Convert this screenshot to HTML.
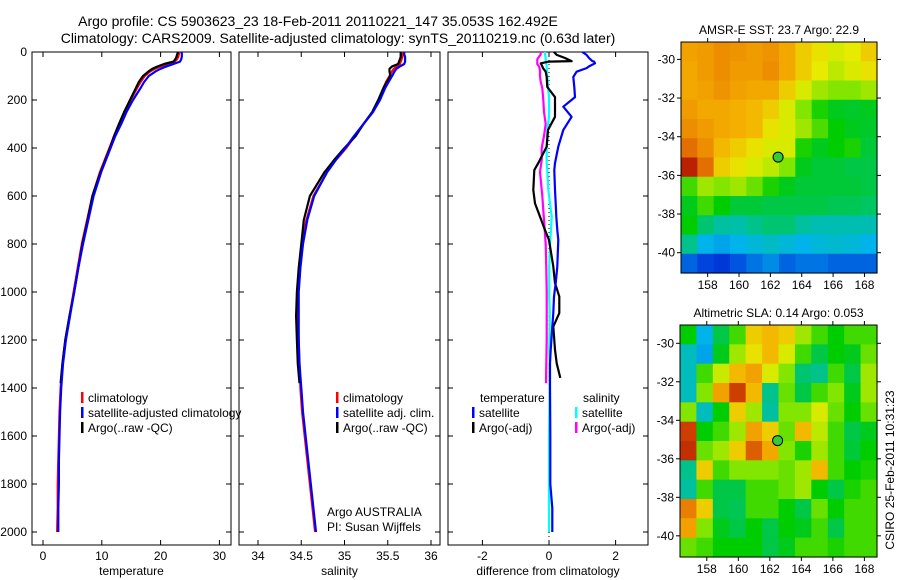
<!DOCTYPE html>
<html><head><meta charset="utf-8"><style>
body{margin:0;background:#fff;}
svg{display:block;font-family:"Liberation Sans",sans-serif;}
</style></head><body>
<svg id="chart" width="900" height="580" viewBox="0 0 900 580" xmlns="http://www.w3.org/2000/svg">
<rect width="900" height="580" fill="#fff"/>
<text x="318" y="26" font-size="14" text-anchor="middle">Argo profile: CS 5903623_23 18-Feb-2011 20110221_147 35.053S 162.492E</text>
<text x="338" y="43" font-size="14" text-anchor="middle">Climatology: CARS2009. Satellite-adjusted climatology: synTS_20110219.nc (0.63d later)</text>
<g id="g"></g>
</svg>
<script>
// ---- data ----
const depths = [0,10,20,30,40,50,60,70,80,100,125,150,200,250,300,350,400,450,500,600,700,800,900,1000,1100,1200,1300,1400,1500,1600,1700,1800,1900,2000];
const tempClim = [23.2,23.1,23.0,22.8,22.4,21.3,20.0,19.0,18.3,17.3,16.6,16.0,14.9,13.9,13.0,12.1,11.3,10.5,9.7,8.4,7.5,6.6,5.9,5.2,4.5,3.8,3.3,3.0,2.8,2.7,2.6,2.5,2.5,2.4];
const tempSat = [23.6,23.6,23.6,23.5,23.3,22.2,21.0,20.0,19.2,18.0,17.2,16.6,15.3,14.2,13.3,12.3,11.5,10.7,9.9,8.6,7.7,6.8,6.0,5.3,4.6,3.9,3.4,3.1,2.9,2.8,2.7,2.7,2.6,2.6];
const argoDepths = [0,10,20,30,40,50,60,70,80,100,125,150,200,250,300,350,400,450,500,600,700,800,900,1000,1100,1200,1300,1380];
const tempArgo = [23.0,22.8,22.7,22.5,22.2,20.6,19.5,18.6,18.0,17.0,16.3,15.8,14.8,13.8,12.9,12.1,11.4,10.6,9.8,8.4,7.6,6.7,6.0,5.3,4.5,3.8,3.3,3.0];
const salClim = [35.67,35.67,35.67,35.66,35.65,35.64,35.6,35.57,35.55,35.52,35.48,35.45,35.4,35.33,35.22,35.12,35.02,34.9,34.8,34.64,34.56,34.51,34.48,34.46,34.46,34.47,34.48,34.49,34.51,34.54,34.57,34.6,34.63,34.66];
const salSat = [35.69,35.69,35.7,35.7,35.7,35.69,35.64,35.6,35.58,35.55,35.51,35.47,35.41,35.33,35.22,35.11,35.01,34.9,34.8,34.65,34.57,34.52,34.49,34.47,34.47,34.47,34.48,34.5,34.52,34.55,34.58,34.61,34.64,34.67];
const salArgo = [35.65,35.65,35.65,35.64,35.63,35.62,35.55,35.52,35.52,35.53,35.49,35.45,35.39,35.32,35.22,35.13,35.0,34.88,34.77,34.6,34.53,34.5,34.47,34.45,34.44,34.45,34.46,34.48];
const diffDepths = [0,12,25,38,40,47,60,67,82,104,146,188,228,270,325,394,463,492,575,631,686,742,783,894,963,1019,1088,1144,1241,1297,1358,1400,1600,1800,1900,2000];
const diffTempSat = [1.0,1.13,1.2,1.3,1.35,1.38,1.2,1.13,0.83,0.73,0.76,0.78,0.43,0.68,0.43,0.28,0.18,0.16,0.18,0.2,0.22,0.25,0.28,0.25,0.2,0.15,0.13,0.1,0.05,0.03,0.03,0.03,0.04,0.04,0.1,0.1];
const diffTempArgo = [0.15,0.23,0.48,0.68,0.0,-0.25,-0.2,-0.18,-0.1,-0.07,-0.05,0.18,0.18,0.18,-0.03,-0.07,-0.32,-0.44,-0.47,-0.42,-0.27,-0.12,0.0,0.13,0.18,0.31,0.31,0.13,0.18,0.23,0.34];
const diffSalSat = [-0.12,-0.12,-0.1,-0.1,-0.1,-0.08,-0.07,-0.07,-0.06,-0.05,-0.03,0.0,0.0,0.0,-0.05,-0.07,-0.07,-0.05,-0.02,0.03,0.08,0.06,0.04,0.01,0.01,0.01,0.02,0.02,0.01,0.02,0.02,0.02,0.0,0.0,0.0,0.0];
const diffSalArgo = [-0.25,-0.25,-0.3,-0.35,-0.35,-0.35,-0.3,-0.28,-0.27,-0.27,-0.25,-0.2,-0.17,-0.15,-0.1,-0.15,-0.22,-0.22,-0.27,-0.2,-0.15,-0.1,-0.08,-0.07,-0.07,-0.07,-0.08,-0.09,-0.1,-0.1,-0.1];
const depthTicks = [0,200,400,600,800,1000,1200,1400,1600,1800,2000];
const tempTicks = [0,10,20,30];
const salTicks = [34,34.5,35,35.5,36];
const diffTicks = [-2,0,2];
const latTicks = [-30,-32,-34,-36,-38,-40];
const lonTicks = [158,160,162,164,166,168];
const sstGrid = [
[.75,.76,.78,.77,.76,.77,.74,.7,.68,.66,.67,.7],
[.74,.76,.78,.76,.76,.78,.74,.7,.67,.64,.66,.68],
[.74,.75,.77,.75,.74,.74,.7,.66,.62,.6,.6,.62],
[.76,.74,.74,.73,.72,.7,.66,.6,.52,.48,.47,.48],
[.78,.76,.74,.73,.72,.68,.66,.62,.56,.5,.48,.47],
[.82,.78,.72,.7,.68,.66,.66,.52,.48,.5,.52,.46],
[.92,.82,.7,.68,.66,.64,.6,.48,.46,.46,.45,.45],
[.55,.62,.6,.62,.58,.52,.48,.46,.46,.46,.46,.45],
[.48,.55,.5,.46,.46,.45,.45,.45,.45,.44,.44,.43],
[.5,.42,.38,.37,.4,.42,.42,.38,.36,.36,.36,.36],
[.4,.3,.28,.3,.32,.34,.32,.3,.32,.33,.32,.3],
[.2,.16,.14,.18,.22,.25,.2,.22,.22,.2,.2,.2]];
const slaGrid = [
[.5,.3,.45,.55,.7,.72,.7,.62,.55,.5,.55,.55],
[.35,.28,.48,.62,.68,.72,.66,.55,.45,.5,.48,.58],
[.35,.55,.65,.72,.75,.66,.6,.42,.4,.55,.45,.62],
[.35,.6,.75,.88,.72,.4,.58,.45,.55,.6,.48,.62],
[.6,.35,.5,.7,.62,.38,.6,.6,.66,.58,.5,.58],
[.88,.5,.55,.62,.75,.7,.58,.72,.64,.55,.45,.48],
[.9,.58,.62,.7,.84,.74,.6,.52,.62,.55,.46,.5],
[.4,.7,.55,.6,.6,.6,.58,.62,.72,.55,.5,.52],
[.38,.55,.45,.45,.55,.55,.58,.62,.5,.45,.52,.55],
[.8,.7,.45,.44,.55,.55,.5,.45,.58,.5,.55,.55],
[.75,.6,.48,.45,.5,.45,.5,.48,.55,.45,.55,.55],
[.58,.55,.5,.5,.5,.45,.48,.55,.55,.52,.55,.55]];
const argoLon = 162.492, argoLat = -35.053;

// ---- helpers ----
const NS="http://www.w3.org/2000/svg";
const G=document.getElementById('g');
function mk(tag,attrs,parent){const e=document.createElementNS(NS,tag);for(const k in attrs)e.setAttribute(k,attrs[k]);(parent||G).appendChild(e);return e;}
const Y0=52, YS=0.24;
const yD = d => Y0 + d*YS;
const xT = t => 43 + 5.88*t;
const xS = s => 258 + 86.5*(s-34);
const xDf = v => 549 + 33.3*v;

function panel(name,x0,x1,ticks,fx,label,leftLabels){
  const g=mk('g',{});
  
  
  mk('rect',{x:x0,y:Y0,width:x1-x0,height:545-Y0,fill:'none',stroke:'#000','stroke-width':1},g);
  ticks.forEach(t=>{const x=fx(t);
    mk('line',{x1:x,x2:x,y1:Y0,y2:Y0+5,stroke:'#000'},g);
    mk('line',{x1:x,x2:x,y1:545,y2:540,stroke:'#000'},g);
    const tx=mk('text',{x:x,y:560,'font-size':12,'text-anchor':'middle'},g);tx.textContent=String(t);
    
    
  });
  depthTicks.forEach(d=>{const y=yD(d);
    mk('line',{x1:x0,x2:x0+5,y1:y,y2:y,stroke:'#000'},g);
    mk('line',{x1:x1,x2:x1-5,y1:y,y2:y,stroke:'#000'},g);
    if(leftLabels){const tx=mk('text',{x:x0-5,y:y+4,'font-size':12,'text-anchor':'end'},g);tx.textContent=String(d);
      
      }
  });
  const lt=mk('text',{x:(x0+x1)/2,y:575,'font-size':12,'text-anchor':'middle'},g);lt.textContent=label;
  
  
}
function line(name,ds,vs,fx,color,w){
  const n=Math.min(ds.length,vs.length);let p='';
  for(let i=0;i<n;i++)p+=(i?'L':'M')+fx(vs[i]).toFixed(1)+','+yD(ds[i]).toFixed(1);
  const e=mk('path',{d:p,fill:'none',stroke:color,'stroke-width':w||2.2,'stroke-linejoin':'round'});
  
  
}
function legend(x,y,color,text){
  mk('rect',{x:x,y:y-10,width:2.5,height:11,fill:color});
  const t=mk('text',{x:x+7,y:y,'font-size':12});t.textContent=text;
  
  
}
function txt(x,y,s,name,extra){const t=mk('text',Object.assign({x:x,y:y,'font-size':12},extra||{}));t.textContent=s;
  
  return t;}

// ---- profile panels ----
panel('temperature-panel',32,231,tempTicks,xT,'temperature',true);
line('temp-climatology',depths,tempClim,xT,'#f00');
line('temp-argo',argoDepths,tempArgo,xT,'#000');
line('temp-satellite-adjusted',depths,tempSat,xT,'#00f');
legend(81,402,'#f00','climatology');legend(81,417,'#00f','satellite-adjusted climatology');legend(81,432,'#000','Argo(..raw -QC)');

panel('salinity-panel',239,440,salTicks,xS,'salinity',false);
line('sal-climatology',depths,salClim,xS,'#f00');
line('sal-argo',argoDepths,salArgo,xS,'#000');
line('sal-satellite-adjusted',depths,salSat,xS,'#00f');
legend(336,402,'#f00','climatology');legend(336,417,'#00f','satellite adj. clim.');legend(336,432,'#000','Argo(..raw -QC)');
txt(327,516,'Argo AUSTRALIA','institution-label');
txt(327,531,'PI: Susan Wijffels','pi-label');

panel('difference-panel',448,648,diffTicks,xDf,'difference from climatology',false);
mk('line',{x1:xDf(0),x2:xDf(0),y1:Y0,y2:545,stroke:'#000','stroke-dasharray':'1,3'});
line('diff-sal-argo',argoDepths,diffSalArgo,xDf,'#f0f');
line('diff-sal-satellite',diffDepths,diffSalSat,xDf,'#0ff');
line('diff-temp-argo',diffDepths,diffTempArgo,xDf,'#000');
line('diff-temp-satellite',diffDepths,diffTempSat,xDf,'#00f');
txt(480,402,'temperature','legend-header-temperature');txt(583,402,'salinity','legend-header-salinity');
legend(472,417,'#00f','satellite');legend(472,432,'#000','Argo(-adj)');
legend(575,417,'#0ff','satellite');legend(575,432,'#f0f','Argo(-adj)');

// ---- maps ----
const cmapStops=[[0,[0,0,140]],[.15,[0,60,220]],[.3,[0,180,235]],[.4,[0,195,140]],[.5,[0,205,0]],[.6,[130,230,0]],[.67,[230,235,0]],[.73,[245,175,0]],[.79,[235,135,0]],[.87,[210,70,0]],[.93,[180,25,0]],[1,[140,0,0]]];
function cmap(v){
  v=Math.max(0,Math.min(1,v));
  for(let i=1;i<cmapStops.length;i++){
    const [a,ca]=cmapStops[i-1],[b,cb]=cmapStops[i];
    if(v<=b){const f=(v-a)/(b-a);return `rgb(${ca.map((c,k)=>Math.round(c+(cb[k]-c)*f)).join(',')})`;}
  }
  return 'rgb(140,0,0)';
}
function map(name,grid,x0,x1,y0,y1,latTop,latBot,title){
  const g=mk('g',{});
  
  
  const lonL=156.3, lonR=168.8;
  const fx=l=>x0+(l-lonL)/(lonR-lonL)*(x1-x0);
  const fy=la=>y0+(latTop-la)/(latTop-latBot)*(y1-y0);
  const rows=grid.length, cols=grid[0].length;
  const cw=(x1-x0)/cols, ch=(y1-y0)/rows;
  grid.forEach((row,r)=>row.forEach((v,c)=>{
    const e=mk('rect',{x:(x0+c*cw).toFixed(2),y:(y0+r*ch).toFixed(2),width:(cw+0.6).toFixed(2),height:(ch+0.6).toFixed(2),fill:cmap(v)},g);
    
    
  }));
  mk('rect',{x:x0,y:y0,width:x1-x0,height:y1-y0,fill:'none',stroke:'#000'},g);
  latTicks.forEach(la=>{const y=fy(la);
    mk('line',{x1:x0,x2:x0-4,y1:y,y2:y,stroke:'#000'},g);
    mk('line',{x1:x1,x2:x1+4,y1:y,y2:y,stroke:'#000'},g);
    const t=mk('text',{x:x0-6,y:y+4,'font-size':12,'text-anchor':'end'},g);t.textContent=String(la);
    
    
  });
  lonTicks.forEach(lo=>{const x=fx(lo);
    mk('line',{x1:x,x2:x,y1:y1,y2:y1+4,stroke:'#000'},g);
    mk('line',{x1:x,x2:x,y1:y0,y2:y0-4,stroke:'#000'},g);
    const t=mk('text',{x:x,y:y1+16,'font-size':12,'text-anchor':'middle'},g);t.textContent=String(lo);
    
    
  });
  const c=mk('circle',{cx:fx(argoLon),cy:fy(argoLat),r:5,fill:'#3c3',stroke:'#000','stroke-width':1},g);
  
  
  const t=mk('text',{x:(x0+x1)/2,y:y0-8,'font-size':12,'text-anchor':'middle'},g);t.textContent=title;
  
  
}
map('sst-map',sstGrid,681,877,42,273,-29.1,-41.05,'AMSR-E SST: 23.7 Argo: 22.9');
map('sla-map',slaGrid,680,877,325,557,-29.05,-41.1,'Altimetric SLA: 0.14 Argo: 0.053');
txt(894,470,'CSIRO 25-Feb-2011 10:31:23','timestamp-label',{'text-anchor':'middle',transform:'rotate(-90 894 470)'});
</script>
</body></html>
